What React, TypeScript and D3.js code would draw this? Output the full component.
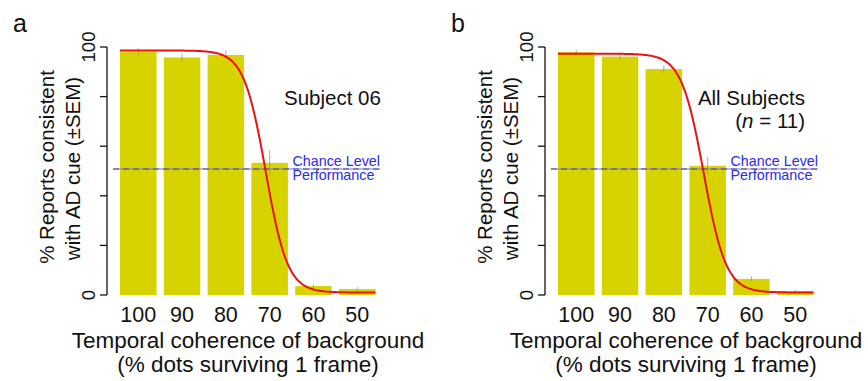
import React from "react";
import * as d3 from "d3";

const categories = ["100", "90", "80", "70", "60", "50"];
const coherence = [100, 90, 80, 70, 60, 50];
const valuesA = [98.1, 95.8, 96.8, 53.3, 3.6, 2.4];
const semA = [1.5, 1.5, 1.8, 5.0, 0.6, 0.8];
const valuesB = [97.9, 96.1, 91.1, 52.1, 6.5, 1.6];
const semB = [1.0, 1.2, 1.5, 3.5, 1.0, 0.5];
// fitted logistic parameters [upper, lower, midpoint, scale]
const fitA = [98.6, 1.0, 70.9, 2.5];
const fitB = [97.3, 1.0, 70.9, 2.55];
const yTicks = [0, 20, 40, 60, 80, 100];
const yTickLabels = ["0", "", "", "", "", "100"];
const chanceLevel = 50.8;

const FONT = "'Liberation Sans', Arial, Helvetica, sans-serif";
const BAR = "#d6d300";

type PanelProps = {
  ox: number;
  letter: string;
  values: number[];
  sem: number[];
  fit: number[];
  label: React.ReactNode;
};

function Panel({ ox, letter, values, sem, fit, label }: PanelProps) {
  const axisX = 107;
  const y = d3.scaleLinear().domain([0, 100]).range([295, 47]);
  const x = d3
    .scaleBand<string>()
    .domain(categories)
    .range([120, 375.5])
    .paddingInner(0.1667)
    .paddingOuter(0);
  const bw = x.bandwidth();
  const c0 = (x(categories[0]) as number) + bw / 2;
  const c1 = (x(categories[categories.length - 1]) as number) + bw / 2;
  const xc = d3
    .scaleLinear()
    .domain([coherence[0], coherence[coherence.length - 1]])
    .range([c0, c1]);
  const [hi, lo, mid, sc] = fit;
  const start = xc.invert(120);
  const end = xc.invert(375.5);
  const pts = d3.range(0, 201).map((i) => {
    const c = start + ((end - start) * i) / 200;
    return [c, lo + (hi - lo) / (1 + Math.exp(-(c - mid) / sc))] as [number, number];
  });
  const line = d3
    .line<[number, number]>()
    .x((d) => xc(d[0]))
    .y((d) => y(d[1]))
    .curve(d3.curveLinear);
  const cy = y(chanceLevel);
  return (
    <g transform={`translate(${ox},0)`}>
      <text x={13} y={32} fontSize={25} fontFamily={FONT} fill="#111">
        {letter}
      </text>
      {values.map((v, i) => (
        <rect
          key={i}
          x={x(categories[i])}
          y={y(v)}
          width={bw}
          height={y(0) - y(v)}
          fill={BAR}
        />
      ))}
      {values.map((v, i) => (
        <line
          key={"e" + i}
          x1={(x(categories[i]) as number) + bw / 2}
          x2={(x(categories[i]) as number) + bw / 2}
          y1={y(v + sem[i])}
          y2={y(Math.max(0, v - sem[i]))}
          stroke="#9a9a70"
          strokeWidth={0.8}
        />
      ))}
      <line x1={113} x2={380} y1={cy} y2={cy} stroke="#7070ff" strokeWidth={1.2} />
      <line
        x1={113}
        x2={380}
        y1={cy}
        y2={cy}
        stroke="#555"
        strokeWidth={1.2}
        strokeDasharray="6,4"
      />
      <path d={line(pts) || ""} fill="none" stroke="#ee1111" strokeWidth={2} />
      <text x={292.5} y={165.5} fontSize={14.3} fontFamily={FONT} fill="#2a2aee">
        Chance Level
      </text>
      <text x={292.5} y={180} fontSize={14.3} fontFamily={FONT} fill="#2a2aee">
        Performance
      </text>
      {label}
      {/* y axis */}
      <line x1={axisX} x2={axisX} y1={y(0)} y2={y(100)} stroke="#111" strokeWidth={1.3} />
      {yTicks.map((t, i) => (
        <g key={"t" + i}>
          <line x1={axisX - 7} x2={axisX} y1={y(t)} y2={y(t)} stroke="#111" strokeWidth={1.3} />
          {yTickLabels[i] && (
            <text
              transform={`translate(${axisX - 12},${y(t)}) rotate(-90)`}
              textAnchor="middle"
              fontSize={18.5}
              fontFamily={FONT}
              fill="#111"
            >
              {yTickLabels[i]}
            </text>
          )}
        </g>
      ))}
      <text
        transform={`translate(54,167) rotate(-90)`}
        textAnchor="middle"
        fontSize={20.5}
        fontFamily={FONT}
        fill="#111"
      >
        % Reports consistent
      </text>
      <text
        transform={`translate(79.5,168.5) rotate(-90)`}
        textAnchor="middle"
        fontSize={20.5}
        fontFamily={FONT}
        fill="#111"
      >
        with AD cue (±SEM)
      </text>
      {/* x tick labels */}
      {categories.map((c) => (
        <text
          key={"x" + c}
          x={(x(c) as number) + bw / 2}
          y={321.5}
          textAnchor="middle"
          fontSize={21.5}
          fontFamily={FONT}
          fill="#111"
        >
          {c}
        </text>
      ))}
      <text x={248} y={348} textAnchor="middle" fontSize={22.5} fontFamily={FONT} fill="#111">
        Temporal coherence of background
      </text>
      <text x={248} y={371.5} textAnchor="middle" fontSize={22.5} fontFamily={FONT} fill="#111">
        (% dots surviving 1 frame)
      </text>
    </g>
  );
}

export default function App() {
  return (
    <svg
      width={868}
      height={381}
      style={{ position: "absolute", left: 0, top: 0, background: "#fff" }}
    >
      <rect width={868} height={381} fill="#fff" />
      <Panel
        ox={0}
        letter="a"
        values={valuesA}
        sem={semA}
        fit={fitA}
        label={
          <text x={284} y={105} fontSize={20.5} fontFamily={FONT} fill="#111">
            Subject 06
          </text>
        }
      />
      <Panel
        ox={438}
        letter="b"
        values={valuesB}
        sem={semB}
        fit={fitB}
        label={
          <g>
            <text x={367} y={105} textAnchor="end" fontSize={20.5} fontFamily={FONT} fill="#111">
              All Subjects
            </text>
            <text x={367} y={128} textAnchor="end" fontSize={20.5} fontFamily={FONT} fill="#111">
              (<tspan fontStyle="italic">n</tspan> = 11)
            </text>
          </g>
        }
      />
    </svg>
  );
}
